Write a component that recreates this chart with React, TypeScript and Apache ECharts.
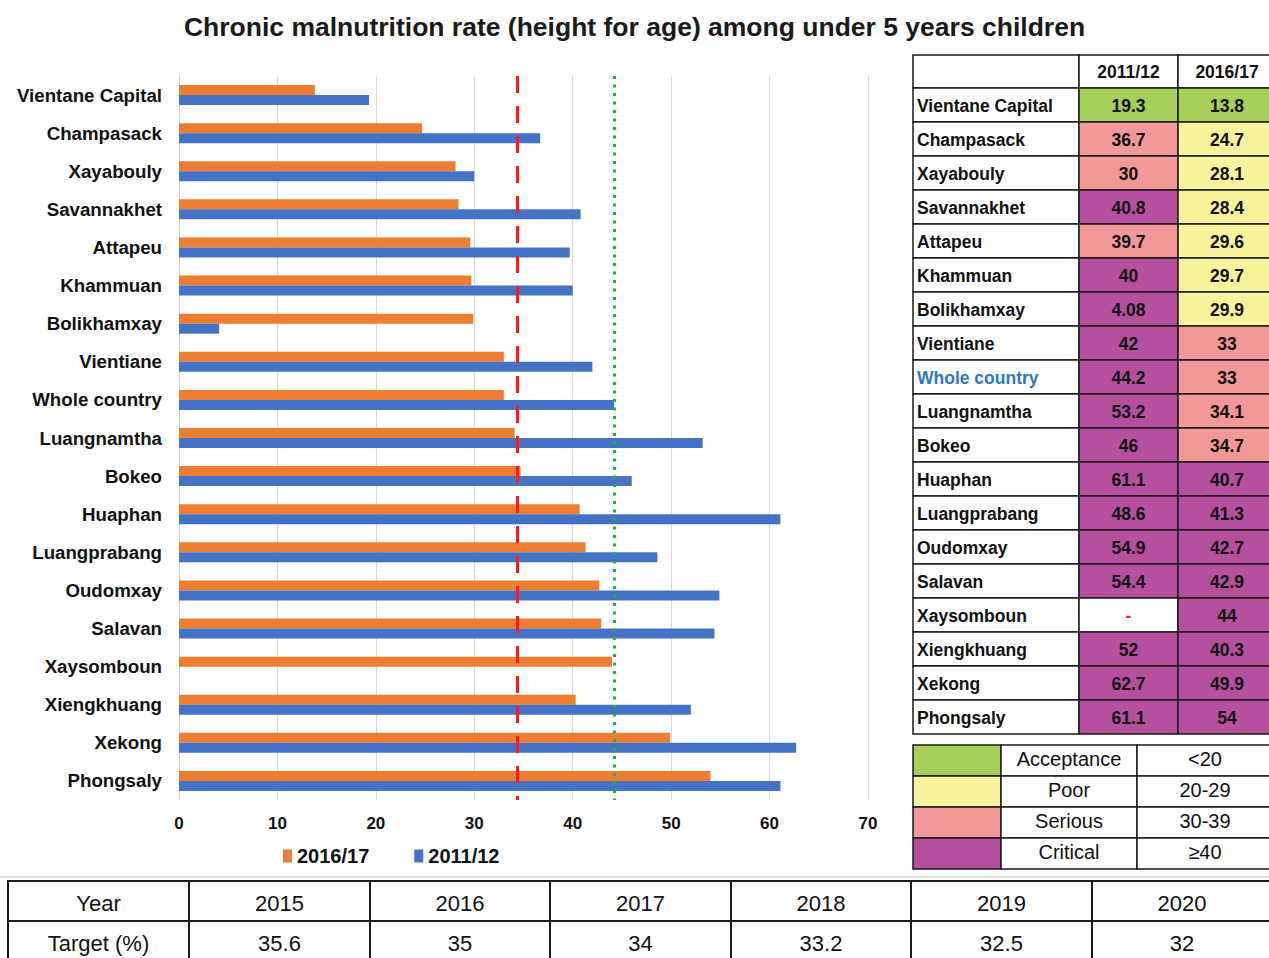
import React, { useEffect, useRef } from "react";
import * as echarts from "echarts";

// Provinces, top to bottom
const regions = [
  "Vientane Capital", "Champasack", "Xayabouly", "Savannakhet", "Attapeu",
  "Khammuan", "Bolikhamxay", "Vientiane", "Whole country", "Luangnamtha",
  "Bokeo", "Huaphan", "Luangprabang", "Oudomxay", "Salavan",
  "Xaysomboun", "Xiengkhuang", "Xekong", "Phongsaly",
];

// Stunting rate (%) per survey round
const rate2016 = [13.8, 24.7, 28.1, 28.4, 29.6, 29.7, 29.9, 33, 33, 34.1, 34.7, 40.7, 41.3, 42.7, 42.9, 44, 40.3, 49.9, 54];
const rate2011: (number | null)[] = [19.3, 36.7, 30, 40.8, 39.7, 40, 4.08, 42, 44.2, 53.2, 46, 61.1, 48.6, 54.9, 54.4, null, 52, 62.7, 61.1];

// Severity class shown in the summary table (A acceptance, P poor, S serious, C critical)
const level2011: (string | null)[] = ["A", "S", "S", "C", "S", "C", "C", "C", "C", "C", "C", "C", "C", "C", "C", null, "C", "C", "C"];
const level2016 = ["A", "P", "P", "P", "P", "P", "P", "S", "S", "S", "S", "C", "C", "C", "C", "C", "C", "C", "C"];

const levelKeys = ["A", "P", "S", "C"];
const levelNames = ["Acceptance", "Poor", "Serious", "Critical"];
const levelRanges = ["<20", "20-29", "30-39", "≥40"];

// National targets
const targetYears = ["2015", "2016", "2017", "2018", "2019", "2020"];
const targetValues = ["35.6", "35", "34", "33.2", "32.5", "32"];

// Reference lines on the bar chart
const targetLine = 34.35;
const wholeCountry2011 = 44.2;

const FONT = '"Liberation Sans", Arial, Helvetica, sans-serif';
const levelColor: Record<string, string> = {
  A: "#a6cf5a",
  P: "#f6f39c",
  S: "#f29896",
  C: "#b6509e",
};
const BORDER = "#1a1a1a";

function cell(x: number, y: number, w: number, h: number, fill: string, lw = 1.5) {
  return {
    type: "rect",
    silent: true,
    shape: { x, y, width: w, height: h },
    style: { fill, stroke: BORDER, lineWidth: lw },
  };
}

function label(
  text: string,
  x: number,
  y: number,
  size: number,
  opts: { bold?: boolean; align?: string; color?: string } = {}
) {
  return {
    type: "text",
    silent: true,
    x,
    y,
    style: {
      text,
      fill: opts.color || "#111",
      font: `${opts.bold ? "bold " : ""}${size}px ${FONT}`,
      align: opts.align || "center",
      verticalAlign: "middle",
    },
  };
}

function buildGraphics() {
  const els: any[] = [];

  // Summary table on the right
  const cols = [913, 1079, 1178, 1278];
  const lastColCenter = 1227;
  const headTop = 55;
  const headH = 33;
  const rowH = 34;
  els.push(cell(cols[0], headTop, cols[1] - cols[0], headH, "#fff"));
  els.push(cell(cols[1], headTop, cols[2] - cols[1], headH, "#fff"));
  els.push(cell(cols[2], headTop, cols[3] - cols[2], headH, "#fff"));
  els.push(label("2011/12", (cols[1] + cols[2]) / 2, headTop + headH / 2, 17.5, { bold: true }));
  els.push(label("2016/17", lastColCenter, headTop + headH / 2, 17.5, { bold: true }));
  regions.forEach((name, i) => {
    const y = headTop + headH + i * rowH;
    const cy = y + rowH / 2 + 1;
    const l1 = level2011[i];
    const l2 = level2016[i];
    els.push(cell(cols[0], y, cols[1] - cols[0], rowH, "#fff"));
    els.push(cell(cols[1], y, cols[2] - cols[1], rowH, l1 ? levelColor[l1] : "#fff"));
    els.push(cell(cols[2], y, cols[3] - cols[2], rowH, levelColor[l2]));
    els.push(
      label(name, cols[0] + 4, cy, 17.5, {
        bold: true,
        align: "left",
        color: name === "Whole country" ? "#2f78c0" : "#111",
      })
    );
    const v1 = rate2011[i];
    els.push(
      label(v1 === null ? "-" : String(v1), (cols[1] + cols[2]) / 2, cy, 17.5, {
        bold: true,
        color: v1 === null ? "#ff2020" : "#111",
      })
    );
    els.push(label(String(rate2016[i]), lastColCenter, cy, 17.5, { bold: true }));
  });

  // Colour key
  const kCols = [913, 1001, 1137, 1278];
  const kTop = 745;
  const kH = 31;
  levelKeys.forEach((k, i) => {
    const y = kTop + i * kH;
    els.push(cell(kCols[0], y, kCols[1] - kCols[0], kH, levelColor[k]));
    els.push(cell(kCols[1], y, kCols[2] - kCols[1], kH, "#fff"));
    els.push(cell(kCols[2], y, kCols[3] - kCols[2], kH, "#fff"));
    els.push(label(levelNames[i], (kCols[1] + kCols[2]) / 2, y + kH / 2 - 1.5, 20));
    els.push(label(levelRanges[i], 1205, y + kH / 2 - 1.5, 20));
  });

  // Thin separator above the target table
  els.push({
    type: "line",
    silent: true,
    shape: { x1: 0, y1: 877, x2: 1269, y2: 877 },
    style: { stroke: "#c4c4c4", lineWidth: 1 },
  });

  // Target table at the bottom
  const tCols = [8, 189, 370, 550, 731, 911, 1092, 1280];
  const tRows = [881, 921];
  const tH = 40;
  const firstCol = ["Year", "Target (%)"];
  tRows.forEach((y, r) => {
    for (let c = 0; c < tCols.length - 1; c++) {
      els.push(cell(tCols[c], y, tCols[c + 1] - tCols[c], tH, "#fff", 2));
      const text = c === 0 ? firstCol[r] : r === 0 ? targetYears[c - 1] : targetValues[c - 1];
      const cx = c === tCols.length - 2 ? 1182 : (tCols[c] + tCols[c + 1]) / 2;
      els.push(label(text, cx, y + tH / 2 + 2, 22));
    }
  });

  return els;
}

export default function App() {
  const ref = useRef<HTMLDivElement>(null);

  useEffect(() => {
    if (!ref.current) return;
    const chart = echarts.init(ref.current, null, { renderer: "svg" });
    const option = {
      animation: false,
      backgroundColor: "#ffffff",
      title: {
        text: "Chronic malnutrition rate (height for age) among under 5 years children",
        left: "center",
        top: 8,
        textStyle: { fontFamily: FONT, fontWeight: "bold", fontSize: 26.5, color: "#1a1a1a" },
      },
      legend: {
        data: ["2016/17", "2011/12"],
        left: 278,
        top: 841,
        icon: "rect",
        itemWidth: 9,
        itemHeight: 13,
        itemGap: 45,
        textStyle: { fontFamily: FONT, fontWeight: "bold", fontSize: 20, color: "#111" },
      },
      grid: { left: 179, top: 76, width: 689, height: 724, containLabel: false },
      xAxis: {
        type: "value",
        min: 0,
        max: 70,
        interval: 10,
        axisLine: { show: false },
        axisTick: { show: false },
        splitLine: { show: true, lineStyle: { color: "#d9d9d9", width: 1 } },
        axisLabel: { fontFamily: FONT, fontWeight: "bold", fontSize: 17, color: "#111", margin: 15 },
      },
      yAxis: {
        type: "category",
        data: regions,
        inverse: true,
        axisLine: { show: true, lineStyle: { color: "#d0d0d0", width: 1 } },
        axisTick: { show: false },
        axisLabel: { fontFamily: FONT, fontWeight: "bold", fontSize: 18.7, color: "#111", margin: 17 },
      },
      series: [
        {
          name: "2016/17",
          type: "bar",
          data: rate2016,
          barWidth: 10,
          barGap: "0%",
          itemStyle: { color: "#ed7d31" },
          markLine: {
            silent: true,
            symbol: ["none", "none"],
            label: { show: false },
            data: [
              { xAxis: targetLine, lineStyle: { color: "#ff1a1a", type: [17, 13], width: 3 } },
              { xAxis: wholeCountry2011, lineStyle: { color: "#22b04b", type: [3, 5.5], width: 3 } },
            ],
          },
        },
        {
          name: "2011/12",
          type: "bar",
          data: rate2011,
          barWidth: 10,
          barGap: "0%",
          itemStyle: { color: "#4472c4" },
        },
      ],
      graphic: buildGraphics(),
    };
    chart.setOption(option as any);
    return () => chart.dispose();
  }, []);

  return (
    <div
      ref={ref}
      style={{ position: "absolute", left: 0, top: 0, width: 1269, height: 958 }}
    />
  );
}
